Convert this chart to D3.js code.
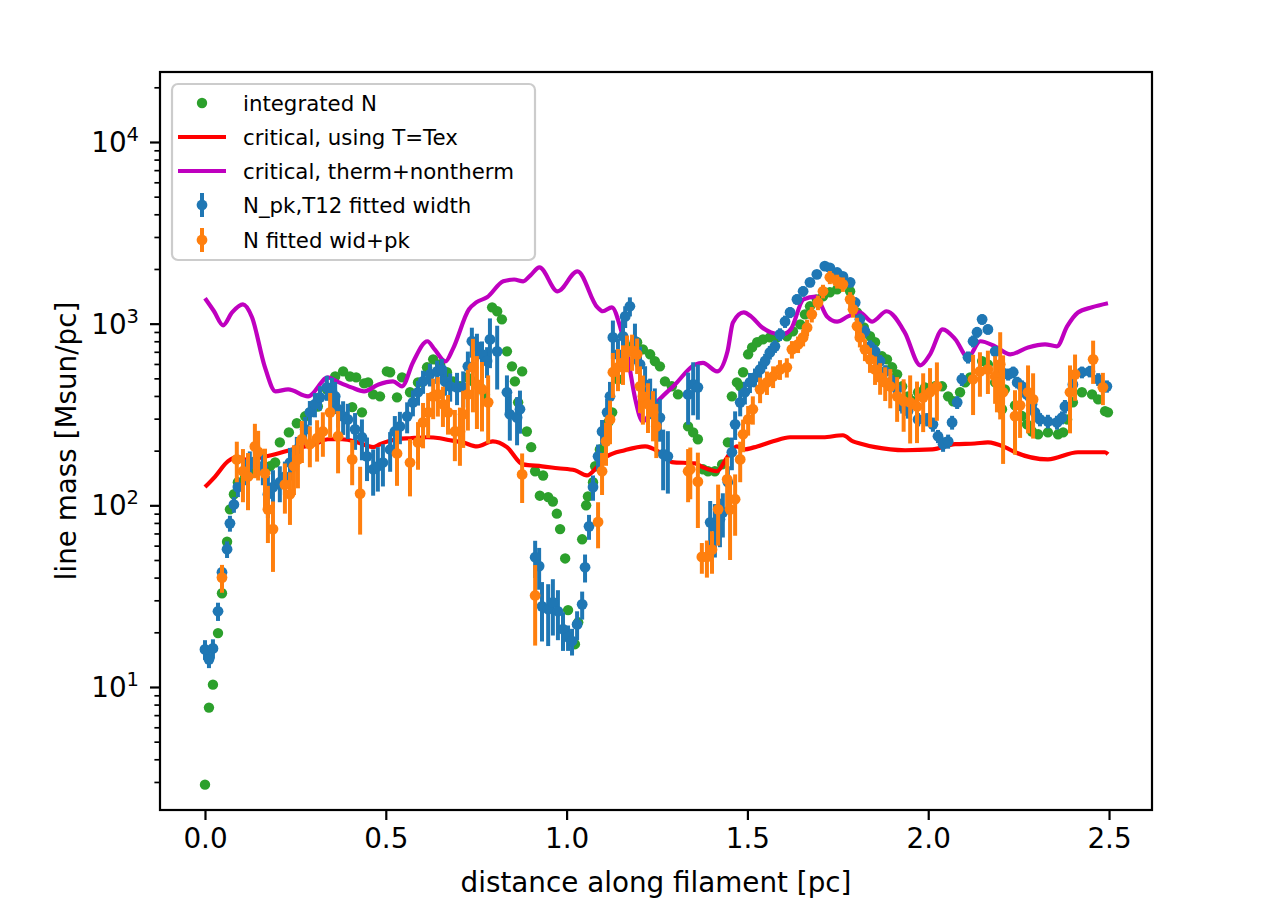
<!DOCTYPE html>
<html>
<head>
<meta charset="utf-8">
<script src="https://cdn.jsdelivr.net/npm/d3@7"></script>
<style>
html,body{margin:0;padding:0;background:#fff;}
svg{display:block;font-family:"DejaVu Sans",sans-serif;}
</style>
</head>
<body>
<svg id="chart" width="1280" height="917"></svg>
<script>
// ---------------- data ----------------
const xTicks = [0.0, 0.5, 1.0, 1.5, 2.0, 2.5];
const yTicks = [10, 100, 1000, 10000];
const xLabel = "distance along filament [pc]";
const yLabel = "line mass [Msun/pc]";
const legendLabels = ["integrated N", "critical, using T=Tex", "critical, therm+nontherm", "N_pk,T12 fitted width", "N fitted wid+pk"];

const greenX = [0.000,0.011,0.022,0.036,0.047,0.061,0.069,0.080,0.091,0.111,0.130,0.158,0.180,0.194,0.207,0.232,0.254,0.277,0.290,0.312,0.337,0.360,0.382,0.401,0.407,0.418,0.434,0.440,0.451,0.465,0.484,0.503,0.512,0.531,0.545,0.567,0.589,0.614,0.631,0.650,0.669,0.686,0.705,0.725,0.741,0.761,0.774,0.794,0.808,0.821,0.835,0.849,0.857,0.866,0.877,0.890,0.902,0.913,0.926,0.935,0.949,0.962,0.973,0.982,0.996,1.004,1.023,1.032,1.043,1.054,1.059,1.073,1.079,1.092,1.106,1.115,1.126,1.142,1.153,1.162,1.181,1.195,1.211,1.231,1.244,1.258,1.272,1.291,1.308,1.336,1.350,1.363,1.377,1.391,1.410,1.430,1.446,1.457,1.471,1.480,1.488,1.502,1.513,1.527,1.543,1.562,1.582,1.609,1.626,1.646,1.659,1.673,1.692,1.709,1.728,1.748,1.784,1.803,1.822,1.839,1.853,1.872,1.886,1.900,1.914,1.928,1.944,1.958,1.972,1.991,2.019,2.038,2.055,2.069,2.088,2.102,2.116,2.149,2.165,2.185,2.204,2.212,2.240,2.259,2.273,2.287,2.304,2.331,2.359,2.373,2.384,2.400,2.425,2.453,2.470,2.489,2.497];
const greenY = [2.9,7.7,10.3,19.8,32.8,63,95,115,134,144,154,158,164,172,222,252,283,309,325,350,435,512,546,512,347,506,325,469,475,408,398,546,540,393,506,419,475,575,636,597,540,481,452,506,481,446,408,1230,1170,1056,704,582,481,369,546,255,209,154,113,146,111,105,90,74,51,26.5,17.2,22.7,65,100,112,134,164,203,255,286,325,494,597,636,750,790,722,678,622,582,481,452,408,272,252,231,158,154,154,168,222,398,475,452,540,678,740,790,819,840,840,852,907,991,1125,1246,1361,1416,1488,1545,1507,1153,952,852,790,661,636,575,526,452,398,374,419,446,452,452,398,374,419,475,506,622,597,475,338,435,355,310,279,255,246,252,246,252,297,369,419,408,383,330,325];

const blueX = [0.000,0.011,0.022,0.036,0.047,0.061,0.069,0.080,0.091,0.111,0.124,0.138,0.160,0.174,0.188,0.207,0.221,0.235,0.254,0.277,0.290,0.304,0.318,0.337,0.351,0.360,0.368,0.382,0.395,0.415,0.434,0.448,0.465,0.478,0.492,0.512,0.525,0.539,0.559,0.575,0.589,0.603,0.622,0.642,0.655,0.664,0.678,0.697,0.714,0.727,0.738,0.752,0.766,0.780,0.788,0.808,0.835,0.843,0.863,0.871,0.913,0.924,0.932,0.949,0.962,0.976,0.990,1.004,1.015,1.029,1.043,1.051,1.062,1.073,1.087,1.098,1.112,1.120,1.128,1.142,1.156,1.162,1.175,1.189,1.203,1.217,1.231,1.244,1.258,1.267,1.280,1.336,1.350,1.363,1.397,1.410,1.424,1.432,1.446,1.457,1.466,1.480,1.493,1.507,1.521,1.535,1.549,1.562,1.576,1.590,1.604,1.618,1.637,1.654,1.673,1.692,1.714,1.728,1.748,1.764,1.784,1.798,1.811,1.825,1.839,1.853,1.867,1.881,1.900,1.914,1.928,1.944,1.972,1.997,2.013,2.027,2.041,2.055,2.066,2.080,2.093,2.110,2.124,2.135,2.149,2.165,2.185,2.204,2.221,2.235,2.246,2.259,2.273,2.287,2.295,2.309,2.331,2.356,2.370,2.378,2.400,2.425,2.447,2.470,2.494];
const blueY = [16.1,14.2,16.3,26.1,42.8,57.3,79.6,101,126,154,168,174,164,115,126,134,144,172,203,262,325,360,393,446,424,398,338,309,297,262,237,186,158,164,172,203,255,272,309,369,419,481,526,546,560,481,452,446,446,582,800,750,678,622,819,704,419,317,304,338,51.8,46.3,27.8,26.8,29.2,26.1,20.8,18.8,17.9,22.1,28.5,45.6,76.6,126,186,255,325,398,840,678,852,1096,1246,800,597,463,398,350,304,191,186,408,463,446,80.6,76.6,83.8,91.5,134,196,279,369,419,475,506,560,622,694,750,873,1027,1153,1361,1507,1688,1868,2075,2030,1912,1822,1688,1306,1056,907,750,704,622,546,481,435,350,330,297,297,279,240,217,225,286,369,494,653,800,897,1056,930,704,540,526,540,475,452,408,360,325,297,290,286,304,350,463,540,546,494,452];
const blueErr = [2,1.5,2,3,4,6,8,10,15,25,30,30,35,30,30,30,30,35,35,45,50,55,60,70,80,80,70,65,65,60,60,50,45,45,45,50,55,55,60,60,65,70,75,80,80,80,80,90,100,120,150,130,120,120,250,270,100,90,90,90,12,12,10,10,10,8,5,3,3,4,5,8,12,20,30,40,60,80,200,150,200,150,150,200,150,120,100,90,80,70,70,130,150,150,25,25,25,25,30,40,50,60,60,60,60,60,60,60,60,70,80,80,90,100,100,100,100,100,100,100,100,90,80,70,60,60,50,45,40,35,30,30,25,25,25,20,20,20,25,30,40,50,60,60,70,60,50,40,40,40,35,35,30,30,25,25,25,25,25,30,35,40,40,40,35];

const orangeX = [0.047,0.088,0.105,0.119,0.138,0.147,0.166,0.174,0.188,0.221,0.235,0.246,0.257,0.268,0.290,0.310,0.326,0.346,0.368,0.407,0.429,0.531,0.567,0.589,0.603,0.617,0.631,0.644,0.658,0.672,0.691,0.705,0.714,0.727,0.741,0.752,0.766,0.783,0.877,0.913,1.087,1.098,1.109,1.120,1.128,1.142,1.156,1.167,1.181,1.195,1.203,1.211,1.225,1.239,1.248,1.336,1.342,1.363,1.374,1.388,1.402,1.419,1.444,1.452,1.466,1.480,1.488,1.502,1.515,1.535,1.554,1.571,1.590,1.609,1.623,1.640,1.654,1.665,1.678,1.695,1.709,1.728,1.748,1.764,1.784,1.792,1.803,1.811,1.825,1.839,1.853,1.867,1.881,1.895,1.914,1.932,1.950,1.969,1.986,2.005,2.024,2.124,2.143,2.165,2.185,2.190,2.199,2.207,2.240,2.254,2.276,2.290,2.392,2.406,2.456,2.483];
const orangeY = [40,179,154,144,211,197,150,95,74,130,115,164,179,231,217,234,255,325,240,179,116,193,172,222,286,325,398,408,360,325,255,255,317,408,575,463,435,369,148,31.9,81,154,225,297,540,575,610,700,710,678,452,398,360,325,272,154,158,135,52,52,57,95,139,95,108,179,246,297,338,435,475,512,560,575,722,769,840,952,1125,1306,1507,1800,1710,1646,1361,1199,968,840,722,636,560,506,475,452,398,374,369,350,393,419,452,494,546,560,512,475,597,419,310,355,419,383,419,526,636,446];
const orangeErr = [7,45,50,50,70,60,55,33,31,40,37,50,55,60,55,60,70,90,90,50,47,65,60,65,80,90,100,100,90,80,80,90,110,150,250,200,180,150,45,15,23,40,60,80,150,150,150,160,160,150,130,120,110,100,90,50,50,60,10,12,15,35,45,45,40,45,50,55,60,70,70,70,70,70,80,80,90,100,110,120,130,150,150,150,130,120,110,100,100,100,100,100,100,110,110,120,150,130,140,150,160,180,150,150,150,150,300,250,120,120,170,150,170,150,170,90];

const redX = [0.000,0.028,0.064,0.091,0.119,0.158,0.194,0.241,0.277,0.304,0.340,0.379,0.423,0.465,0.484,0.531,0.567,0.614,0.650,0.678,0.713,0.752,0.796,0.835,0.879,0.932,0.976,1.023,1.056,1.084,1.112,1.161,1.217,1.253,1.291,1.355,1.377,1.416,1.444,1.471,1.488,1.527,1.571,1.618,1.709,1.764,1.792,1.811,1.853,1.936,2.011,2.074,2.129,2.165,2.212,2.240,2.331,2.414,2.489,2.497];
const redY = [126,144,175,184,177,184,191,203,211,217,231,231,222,209,217,231,234,237,234,228,222,211,225,209,168,164,160,156,146,162,186,201,211,198,173,170,162,154,184,211,203,211,225,237,237,243,225,219,209,201,203,217,219,222,209,196,179,196,196,191];

const magX = [0.000,0.025,0.050,0.075,0.105,0.130,0.165,0.195,0.230,0.285,0.340,0.365,0.405,0.440,0.480,0.520,0.545,0.575,0.615,0.635,0.665,0.685,0.730,0.750,0.780,0.825,0.855,0.880,0.900,0.925,0.975,1.030,1.085,1.100,1.125,1.150,1.170,1.190,1.210,1.245,1.300,1.355,1.377,1.416,1.445,1.460,1.490,1.510,1.540,1.565,1.595,1.620,1.655,1.688,1.720,1.748,1.778,1.810,1.845,1.885,1.935,1.978,2.005,2.040,2.075,2.110,2.144,2.185,2.227,2.276,2.323,2.356,2.384,2.414,2.453,2.497];
const magY = [1380,1170,979,1153,1276,1084,582,424,435,398,506,481,446,424,463,481,452,612,800,722,620,722,1200,1310,1396,1711,1750,1711,1845,2041,1507,1940,1230,1170,1230,931,636,383,290,360,463,595,608,546,705,1016,1153,1096,955,895,872,931,1361,1410,1096,1027,1096,1153,1027,1170,895,590,678,931,820,653,800,750,678,740,770,750,966,1153,1230,1294];

// ---------------- layout ----------------
const W = 1280, H = 917;
const L = 160, R = 1152, T = 72, B = 810;
const svg = d3.select("#chart");
svg.append("rect").attr("width", W).attr("height", H).attr("fill", "#fff");

const x = d3.scaleLinear().domain([-0.1244, 2.6188]).range([L, R]);
const y = d3.scaleLog().domain([2.103, 24283]).range([B, T]);

const C = { green: "#2ca02c", blue: "#1f77b4", orange: "#ff7f0e", red: "#ff0000", mag: "#bf00bf" };

const clipId = "plotclip";
svg.append("clipPath").attr("id", clipId).append("rect")
  .attr("x", L).attr("y", T).attr("width", R - L).attr("height", B - T);
const plot = svg.append("g").attr("clip-path", `url(#${clipId})`);

// green scatter
plot.append("g").selectAll("circle").data(greenX.map((d, i) => [d, greenY[i]])).join("circle")
  .attr("cx", d => x(d[0])).attr("cy", d => y(d[1])).attr("r", 5.2).attr("fill", C.green);

// lines
const line = d3.line().x(d => x(d[0])).y(d => y(d[1])).curve(d3.curveMonotoneX);
plot.append("path").datum(redX.map((d, i) => [d, redY[i]]))
  .attr("d", line).attr("fill", "none").attr("stroke", C.red).attr("stroke-width", 4.2).attr("stroke-linejoin", "round");
plot.append("path").datum(magX.map((d, i) => [d, magY[i]]))
  .attr("d", line).attr("fill", "none").attr("stroke", C.mag).attr("stroke-width", 4.2).attr("stroke-linejoin", "round");

// error bar series
function errSeries(xs, ys, es, color) {
  const g = plot.append("g");
  const data = xs.map((d, i) => ({ x: d, y: ys[i], e: es[i] }));
  const lo = 2.103 * 0.5;
  g.selectAll("line").data(data).join("line")
    .attr("x1", d => x(d.x)).attr("x2", d => x(d.x))
    .attr("y1", d => y(Math.max(d.y - d.e, lo))).attr("y2", d => y(d.y + d.e))
    .attr("stroke", color).attr("stroke-width", 4);
  g.selectAll("circle").data(data).join("circle")
    .attr("cx", d => x(d.x)).attr("cy", d => y(d.y)).attr("r", 5.4).attr("fill", color);
}
errSeries(blueX, blueY, blueErr, C.blue);
errSeries(orangeX, orangeY, orangeErr, C.orange);

// ---------------- axes ----------------
const font = "DejaVu Sans, sans-serif";
const xAxis = svg.append("g").attr("transform", `translate(0,${B})`)
  .call(d3.axisBottom(x).tickValues(xTicks).tickSize(10).tickPadding(6).tickFormat(d3.format(".1f")));
xAxis.select(".domain").remove();
xAxis.selectAll(".tick line").attr("stroke", "#000").attr("stroke-width", 2.2);
xAxis.selectAll(".tick text").attr("font-size", 27.8).attr("font-family", font).attr("fill", "#000")
  .attr("dy", "0.8em");

// y minor ticks
const minor = [];
yTicks.concat([1]).forEach(dec => { for (let k = 2; k <= 9; k++) { const v = dec * k; if (v > 2.103 && v < 24283) minor.push(v); } });
const yMinor = svg.append("g").attr("transform", `translate(${L},0)`)
  .call(d3.axisLeft(y).tickValues(minor).tickSize(5.6).tickFormat(""));
yMinor.select(".domain").remove();
yMinor.selectAll(".tick line").attr("stroke", "#000").attr("stroke-width", 1.7);

const yAxis = svg.append("g").attr("transform", `translate(${L},0)`)
  .call(d3.axisLeft(y).tickValues(yTicks).tickSize(10).tickFormat(""));
yAxis.select(".domain").remove();
yAxis.selectAll(".tick line").attr("stroke", "#000").attr("stroke-width", 2.2);
yTicks.forEach(v => {
  const t = svg.append("text").attr("x", 139).attr("y", y(v) + 10).attr("text-anchor", "end")
    .attr("font-family", font).attr("font-size", 27.8).attr("fill", "#000");
  t.append("tspan").text("10");
  t.append("tspan").attr("font-size", 19.5).attr("dy", -11).text(String(Math.round(Math.log10(v))));
});

// frame
svg.append("rect").attr("x", L).attr("y", T).attr("width", R - L).attr("height", B - T)
  .attr("fill", "none").attr("stroke", "#000").attr("stroke-width", 2.2);

// axis labels
svg.append("text").attr("x", (L + R) / 2).attr("y", 892).attr("text-anchor", "middle")
  .attr("font-family", font).attr("font-size", 27.8).attr("fill", "#000").text(xLabel);
svg.append("text").attr("transform", `translate(76,${(T + B) / 2}) rotate(-90)`).attr("text-anchor", "middle")
  .attr("font-family", font).attr("font-size", 27.8).attr("fill", "#000").text(yLabel);

// ---------------- legend ----------------
const lg = svg.append("g");
lg.append("rect").attr("x", 172).attr("y", 84).attr("width", 363).attr("height", 176).attr("rx", 6)
  .attr("fill", "#fff").attr("fill-opacity", 0.8).attr("stroke", "#cccccc").attr("stroke-width", 2.2);
const rowY = [103, 137, 171, 205, 240];
lg.append("circle").attr("cx", 202).attr("cy", rowY[0]).attr("r", 5.2).attr("fill", C.green);
lg.append("line").attr("x1", 178).attr("x2", 226).attr("y1", rowY[1]).attr("y2", rowY[1]).attr("stroke", C.red).attr("stroke-width", 4.2);
lg.append("line").attr("x1", 178).attr("x2", 226).attr("y1", rowY[2]).attr("y2", rowY[2]).attr("stroke", C.mag).attr("stroke-width", 4.2);
[[rowY[3], C.blue], [rowY[4], C.orange]].forEach(([yy, c]) => {
  lg.append("line").attr("x1", 202).attr("x2", 202).attr("y1", yy - 12).attr("y2", yy + 12).attr("stroke", c).attr("stroke-width", 4);
  lg.append("circle").attr("cx", 202).attr("cy", yy).attr("r", 5.4).attr("fill", c);
});
legendLabels.forEach((s, i) => {
  lg.append("text").attr("x", 243).attr("y", rowY[i] + 7.5).attr("font-family", font).attr("font-size", 21.3)
    .attr("fill", "#000").text(s);
});
</script>
</body>
</html>
